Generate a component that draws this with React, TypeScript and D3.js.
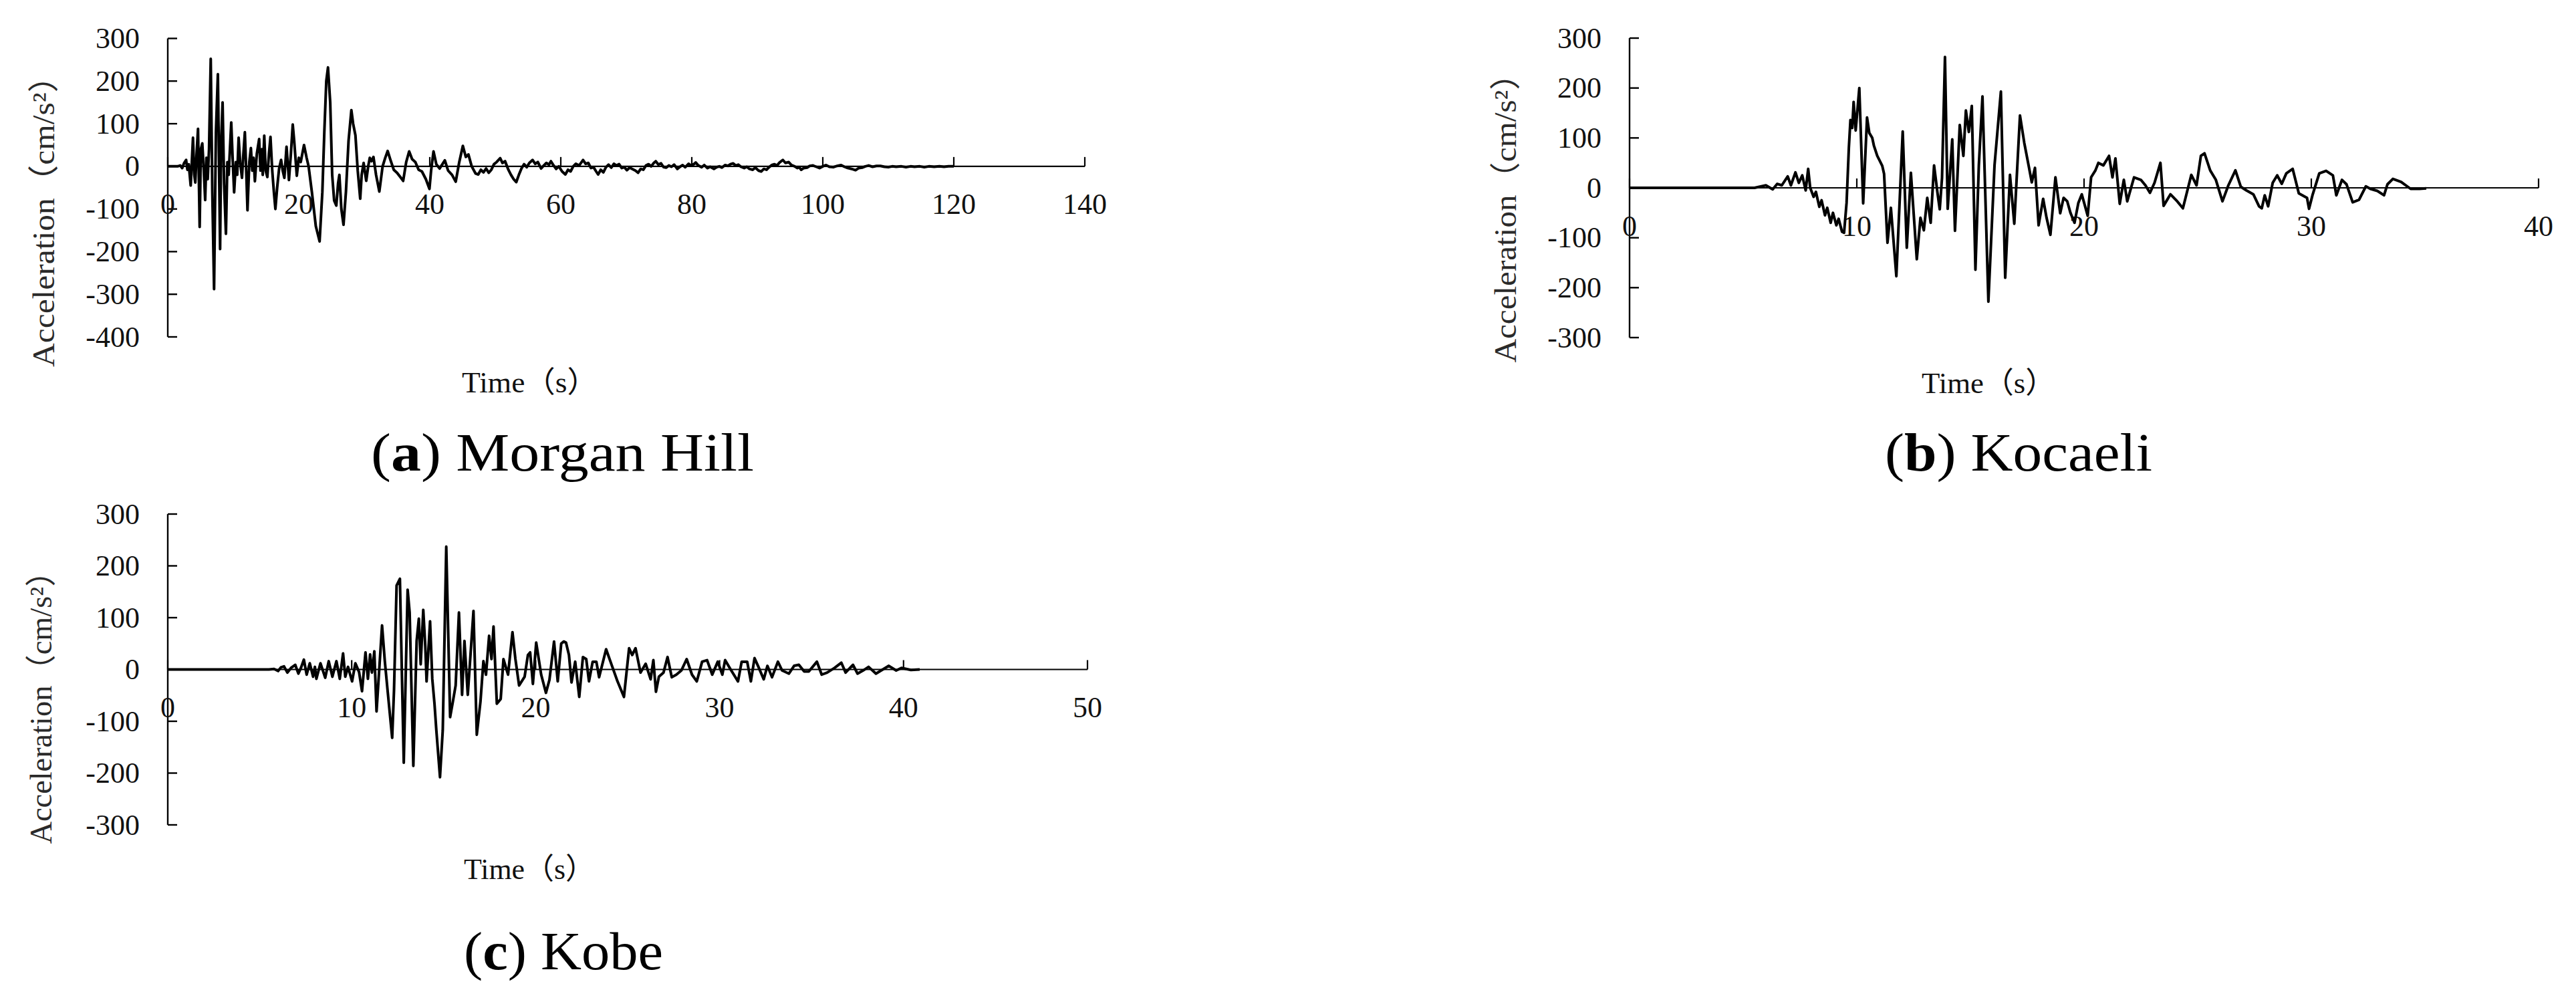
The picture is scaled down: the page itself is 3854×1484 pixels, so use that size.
import React from "react";
import * as d3 from "d3";

// ---------- data (time s, acceleration cm/s²) ----------
const morganHill: [number, number][] = [
  [0,0],[1.5,0],[1.9,2],[2.2,-4],[2.5,8],[2.8,15],[3.0,-8],[3.2,5],[3.5,-45],[3.85,67],[4.05,-20],[4.2,-38],[4.4,30],[4.62,88],[4.87,-142],[5.05,40],[5.27,54],[5.5,-10],[5.71,-79],[5.9,20],[6.1,-30],[6.3,40],[6.56,252],[6.8,-60],[7.07,-288],[7.35,80],[7.65,216],[7.99,-194],[8.15,60],[8.37,150],[8.6,-40],[8.88,-158],[9.1,10],[9.3,-20],[9.69,103],[9.9,20],[10.13,-61],[10.4,10],[10.6,-20],[10.82,67],[11.05,10],[11.33,-27],[11.55,30],[11.77,80],[12.0,-20],[12.17,-103],[12.45,10],[12.69,43],[12.9,-10],[13.1,20],[13.3,-35],[13.6,30],[13.95,64],[14.15,-10],[14.35,40],[14.5,-20],[14.73,72],[14.95,-10],[15.2,-25],[15.45,30],[15.68,69],[15.95,-10],[16.2,-60],[16.43,-100],[16.7,-50],[17.0,-5],[17.3,15],[17.55,-10],[17.8,-27],[18.13,46],[18.5,-32],[18.8,30],[19.08,98],[19.3,60],[19.7,-22],[20.0,20],[20.3,10],[20.8,50],[21.2,20],[21.5,0],[22.0,-60],[22.6,-140],[23.18,-176],[23.6,-60],[23.9,80],[24.2,200],[24.46,232],[24.8,150],[25.1,-20],[25.4,-80],[25.73,-92],[26.0,-40],[26.2,-20],[26.5,-100],[26.83,-137],[27.2,-60],[27.6,60],[28.03,132],[28.3,100],[28.65,73],[29.0,-10],[29.38,-76],[29.6,-20],[29.9,8],[30.3,-34],[30.6,0],[30.84,20],[31.1,12],[31.4,22],[31.8,-20],[32.3,-59],[32.8,0],[33.2,20],[33.57,36],[34.0,15],[34.5,-8],[35.0,-15],[35.5,-25],[35.94,-34],[36.4,10],[36.85,35],[37.3,17],[37.8,10],[38.3,-8],[38.8,-12],[39.4,-30],[39.95,-53],[40.2,-10],[40.57,35],[41.0,5],[41.5,-5],[42.3,14],[42.8,-10],[43.4,-20],[43.96,-36],[44.5,10],[45.05,48],[45.5,22],[45.9,28],[46.4,0],
  [47.0,-17],[47.4,-19],[47.8,-8],[48.2,-14],[48.6,-5],[49.0,-15],[49.4,-8],[49.8,5],[50.2,10],[50.75,19],[51.1,8],[51.5,12],[52.0,-8],[52.4,-20],[52.8,-30],[53.2,-37],[53.6,-20],[54.0,-5],[54.4,5],[54.8,-2],[55.2,8],[55.7,15],[56.1,6],[56.5,10],[57.0,-5],[57.4,2],[57.8,8],[58.2,4],[58.5,12],[58.9,2],[59.3,-6],[59.7,0],[60.2,-12],[60.7,-19],[61.1,-8],[61.5,-12],[61.9,0],[62.3,6],[62.8,2],[63.4,15],[63.8,6],[64.2,8],[64.6,-4],[65.0,-2],[65.4,-12],[65.7,-19],[66.1,-8],[66.5,-14],[66.9,-2],[67.3,4],[67.7,-3],[68.1,6],[68.5,2],[68.9,5],[69.3,-4],[69.7,-2],[70.1,-9],[70.5,-3],[70.9,-6],[71.4,-10],[71.8,-15],[72.2,-6],[72.6,-8],[73.0,2],[73.4,5],[73.8,0],[74.2,8],[74.5,12],[74.9,4],[75.3,7],[75.7,-2],[76.1,-3],[76.5,2],[76.9,-1],[77.3,4],[77.8,-6],[78.2,-1],[78.6,3],[79.0,-2],[79.5,6],[79.9,2],[80.3,5],[80.6,9],[81.0,2],[81.5,-2],[81.9,3],[82.4,-4],[82.8,-1],[83.4,-6],[83.8,-2],[84.2,0],[84.6,-3],[85.1,3],[85.5,1],[85.9,5],[86.3,7],[86.7,2],[87.1,4],[87.5,-1],[88.0,-4],[88.4,-1],[88.8,-6],[89.3,-8],[89.7,-3],[90.2,-10],[90.6,-12],[91.0,-6],[91.4,-8],[91.8,-2],[92.2,3],[92.6,5],[93.0,2],[93.4,9],[93.9,15],[94.3,8],[94.8,10],[95.2,3],[95.7,0],[96.1,-4],[96.4,-2],[96.7,-8],[97.1,-4],[97.6,-3],[98.0,1],[98.5,2],[99.0,-1],[99.5,-4],[100.0,0],[100.5,3],[101.0,-1],[101.6,-2],[102.2,1],[102.8,3],[103.3,-1],[103.8,-4],[104.4,-6],[105,-9],[105.5,-4],[106,-3],[106.5,0],[107,2],[107.6,-1],[108.2,1],[108.8,1],[109.4,-1],[110,-2],[110.6,0],[111.2,-1],[112,0],[112.7,-2],[113.4,0],[114,-1],[114.8,0],[115.5,-2],[116.2,0],[117,-1],[117.8,0],[118.5,-1],[119.2,0],[120,0]
];

const kocaeli: [number, number][] = [
  [0,0],[5.5,0],[5.7,2],[6.0,5],[6.3,-3],[6.5,8],[6.7,5],[6.96,23],[7.1,5],[7.3,31],[7.45,10],[7.6,25],[7.75,-5],[7.86,38],[7.95,0],[8.1,-18],[8.2,-8],[8.35,-38],[8.45,-25],[8.6,-55],[8.7,-40],[8.85,-70],[8.95,-50],[9.1,-75],[9.2,-62],[9.35,-88],[9.44,-90],[9.55,-30],[9.65,80],[9.72,136],[9.8,120],[9.86,172],[9.95,115],[10.11,200],[10.28,-31],[10.45,141],[10.55,110],[10.68,100],[10.75,85],[10.9,64],[11.0,55],[11.12,44],[11.2,28],[11.35,-110],[11.5,-40],[11.74,-177],[12.02,113],[12.2,-120],[12.38,30],[12.64,-143],[12.8,-60],[12.95,-85],[13.1,-20],[13.25,-70],[13.4,45],[13.55,-10],[13.65,-43],[13.75,20],[13.88,262],[14.0,-42],[14.2,97],[14.32,-86],[14.53,126],[14.69,64],[14.8,155],[14.93,112],[15.06,164],[15.22,-164],[15.37,45],[15.53,183],[15.79,-228],[16.06,45],[16.34,193],[16.53,-180],[16.74,26],[16.93,-72],[17.18,145],[17.37,90],[17.58,40],[17.7,11],[17.84,40],[18.0,-75],[18.2,-22],[18.35,-60],[18.52,-94],[18.74,21],[18.95,-51],[19.1,-20],[19.26,-27],[19.4,-50],[19.58,-70],[19.75,-30],[19.9,-13],[20.16,-56],[20.31,21],[20.5,35],[20.63,50],[20.85,45],[21.1,64],[21.25,21],[21.38,59],[21.57,-32],[21.75,16],[21.9,-27],[22.2,21],[22.5,16],[22.7,5],[22.9,-10],[23.1,10],[23.36,50],[23.5,-36],[23.8,-13],[24.1,-27],[24.35,-41],[24.72,26],[24.95,5],[25.14,64],[25.3,69],[25.55,35],[25.8,16],[26.09,-27],[26.35,5],[26.66,35],[26.9,2],[27.14,-5],[27.45,-13],[27.7,-37],[27.82,-41],[27.95,-15],[28.1,-37],[28.3,10],[28.5,25],[28.7,8],[28.9,29],[29.18,38],[29.45,-11],[29.81,-20],[29.9,-42],[30.05,-15],[30.35,29],[30.65,34],[30.95,25],[31.1,-15],[31.35,16],[31.55,7],[31.82,-29],[32.1,-24],[32.4,3],[32.6,-2],[32.9,-6],[33.2,-15],[33.35,7],[33.59,18],[33.95,12],[34.37,-2],[34.76,-2],[35.06,-1]
];

const kobe: [number, number][] = [
  [0,0],[5.5,0],[5.78,1],[6.0,-3],[6.15,4],[6.32,6],[6.5,-6],[6.7,3],[6.93,9],[7.1,-8],[7.25,4],[7.4,19],[7.55,-10],[7.72,12],[7.9,-14],[8.0,5],[8.08,-18],[8.3,12],[8.56,-16],[8.75,16],[8.95,-14],[9.17,16],[9.35,-18],[9.53,31],[9.65,-14],[9.8,5],[10.02,-23],[10.2,12],[10.4,-5],[10.56,-42],[10.75,33],[10.88,-18],[11.0,29],[11.1,-6],[11.23,35],[11.35,-81],[11.65,85],[11.8,16],[11.96,-44],[12.2,-132],[12.3,-40],[12.44,162],[12.62,175],[12.83,-180],[13.04,154],[13.15,110],[13.35,-186],[13.53,55],[13.65,98],[13.75,10],[13.89,115],[14.0,45],[14.07,-23],[14.26,93],[14.38,-18],[14.5,-66],[14.6,-117],[14.8,-208],[14.95,-117],[15.14,237],[15.35,-92],[15.5,-62],[15.65,-31],[15.83,110],[16.0,-49],[16.13,55],[16.31,-49],[16.62,113],[16.8,-126],[17.0,-62],[17.16,16],[17.3,-10],[17.47,65],[17.6,20],[17.71,83],[17.89,-66],[18.1,-57],[18.25,20],[18.5,-10],[18.74,72],[18.9,20],[19.1,-31],[19.4,-14],[19.58,28],[19.7,33],[19.85,-28],[20.03,52],[20.3,-10],[20.56,-45],[20.75,-20],[21.0,54],[21.2,-23],[21.39,50],[21.53,54],[21.65,52],[21.81,28],[21.95,-25],[22.15,15],[22.37,-53],[22.57,24],[22.75,20],[22.9,-23],[23.1,15],[23.3,15],[23.45,-15],[23.83,39],[24.15,7],[24.45,-23],[24.8,-53],[25.08,41],[25.25,28],[25.43,41],[25.7,-6],[25.98,11],[26.25,-19],[26.4,18],[26.54,-43],[26.7,-14],[26.95,-6],[27.17,24],[27.4,-15],[27.65,-10],[27.92,-2],[28.21,20],[28.5,-10],[28.76,-23],[29.05,15],[29.32,18],[29.6,-10],[29.9,15],[30.15,-10],[30.3,18],[30.6,0],[31.0,-23],[31.2,15],[31.5,15],[31.7,-23],[31.9,22],[32.1,6],[32.4,-19],[32.6,7],[32.85,-15],[33.17,15],[33.4,-2],[33.77,-8],[34.05,7],[34.31,9],[34.6,-4],[34.85,-4],[35.29,15],[35.55,-10],[35.85,-6],[36.25,3],[36.62,13],[36.85,-6],[37.25,9],[37.5,-8],[37.8,-2],[38.1,5],[38.5,-8],[39.2,7],[39.6,-2],[39.9,3],[40.4,-1],[40.88,0]
];

const morganHillXTicks = [0, 20, 40, 60, 80, 100, 120, 140];
const morganHillYTicks = [300, 200, 100, 0, -100, -200, -300, -400];
const kocaeliXTicks = [0, 10, 20, 30, 40];
const kocaeliYTicks = [300, 200, 100, 0, -100, -200, -300];
const kobeXTicks = [0, 10, 20, 30, 40, 50];
const kobeYTicks = [300, 200, 100, 0, -100, -200, -300];

const captionLetters = ["a", "b", "c"];
const captionNames = ["Morgan Hill", "Kocaeli", "Kobe"];
const yTitle = "Acceleration（cm/s²）";
const xTitle = "Time（s）";

// ---------- layout ----------
const FONT = "'Liberation Serif', 'Times New Roman', 'Noto Sans CJK SC', serif";

const panels = [
  {
    data: morganHill, xTicks: morganHillXTicks, yTicks: morganHillYTicks,
    xRange: [251, 1623], yRange: [504, 57.5],
    yTitleX: 65, yTitleCY: 319, yTitleLen: 460,
    timeX: 691, timeY: 572, timeLen: 203,
    capX: 555, capY: 704, capLen: 573,
  },
  {
    data: kocaeli, xTicks: kocaeliXTicks, yTicks: kocaeliYTicks,
    xRange: [2438, 3798], yRange: [505, 57],
    yTitleX: 2252, yTitleCY: 314, yTitleLen: 457,
    timeX: 2875, timeY: 573, timeLen: 200,
    capX: 2820, capY: 704, capLen: 400,
  },
  {
    data: kobe, xTicks: kobeXTicks, yTicks: kobeYTicks,
    xRange: [251, 1627], yRange: [1234, 769],
    yTitleX: 61, yTitleCY: 1047, yTitleLen: 431,
    timeX: 694, timeY: 1300, timeLen: 196,
    capX: 694, capY: 1450, capLen: 298,
  },
];

function Panel({ p, i }: { p: any; i: number }) {
  const xTicks: number[] = p.xTicks;
  const yTicks: number[] = p.yTicks;
  const x = d3.scaleLinear().domain([0, xTicks[xTicks.length - 1]]).range(p.xRange);
  const y = d3
    .scaleLinear()
    .domain([yTicks[yTicks.length - 1], yTicks[0]])
    .range(p.yRange);
  const line = d3
    .line<[number, number]>()
    .x((d) => x(d[0]))
    .y((d) => y(d[1]));
  const x0 = x(0);
  const y0 = y(0);
  const tick = 14;
  return (
    <g>
      {/* y axis */}
      <line x1={x0} x2={x0} y1={y(yTicks[0])} y2={y(yTicks[yTicks.length - 1])} stroke="#000" strokeWidth={2.4} />
      {yTicks.map((v) => (
        <g key={"yt" + v}>
          <line x1={x0} x2={x0 + tick} y1={y(v)} y2={y(v)} stroke="#000" strokeWidth={2.4} />
          <text x={x0 - 42} y={y(v)} textAnchor="end" dominantBaseline="central" fontSize={44} fontFamily={FONT} fill="#111">
            {String(v)}
          </text>
        </g>
      ))}
      {/* x axis at 0 */}
      <line x1={x0} x2={x(xTicks[xTicks.length - 1])} y1={y0} y2={y0} stroke="#000" strokeWidth={2.2} />
      {xTicks.map((v) => (
        <g key={"xt" + v}>
          <line x1={x(v)} x2={x(v)} y1={y0} y2={y0 - tick} stroke="#000" strokeWidth={2.2} />
          <text x={x(v)} y={y0 + 57} textAnchor="middle" dominantBaseline="central" fontSize={44} fontFamily={FONT} fill="#111">
            {String(v)}
          </text>
        </g>
      ))}
      {/* waveform */}
      <path d={line(p.data) || ""} fill="none" stroke="#000" strokeWidth={4} strokeLinejoin="round" />
      {/* axis titles */}
      <text
        transform={`translate(${p.yTitleX},${p.yTitleCY}) rotate(-90)`}
        textAnchor="middle"
        dominantBaseline="central"
        fontSize={46}
        fontFamily={FONT}
        fill="#2a2a2a"
        textLength={p.yTitleLen}
        lengthAdjust="spacingAndGlyphs"
      >
        {yTitle}
      </text>
      <text
        x={p.timeX}
        y={p.timeY}
        dominantBaseline="central"
        fontSize={44}
        fontFamily={FONT}
        fill="#111"
        textLength={p.timeLen}
        lengthAdjust="spacingAndGlyphs"
      >
        {xTitle}
      </text>
      {/* caption */}
      <text
        x={p.capX}
        y={p.capY}
        fontSize={80}
        fontFamily={FONT}
        fill="#000"
        textLength={p.capLen}
        lengthAdjust="spacingAndGlyphs"
      >
        (<tspan fontWeight="bold">{captionLetters[i]}</tspan>) {captionNames[i]}
      </text>
    </g>
  );
}

export default function App() {
  return (
    <svg
      width={3854}
      height={1484}
      viewBox="0 0 3854 1484"
      style={{ position: "absolute", left: 0, top: 0, display: "block", background: "#fff" }}
    >
      <rect x={0} y={0} width={3854} height={1484} fill="#fff" />
      {panels.map((p, i) => (
        <Panel key={i} p={p} i={i} />
      ))}
    </svg>
  );
}
